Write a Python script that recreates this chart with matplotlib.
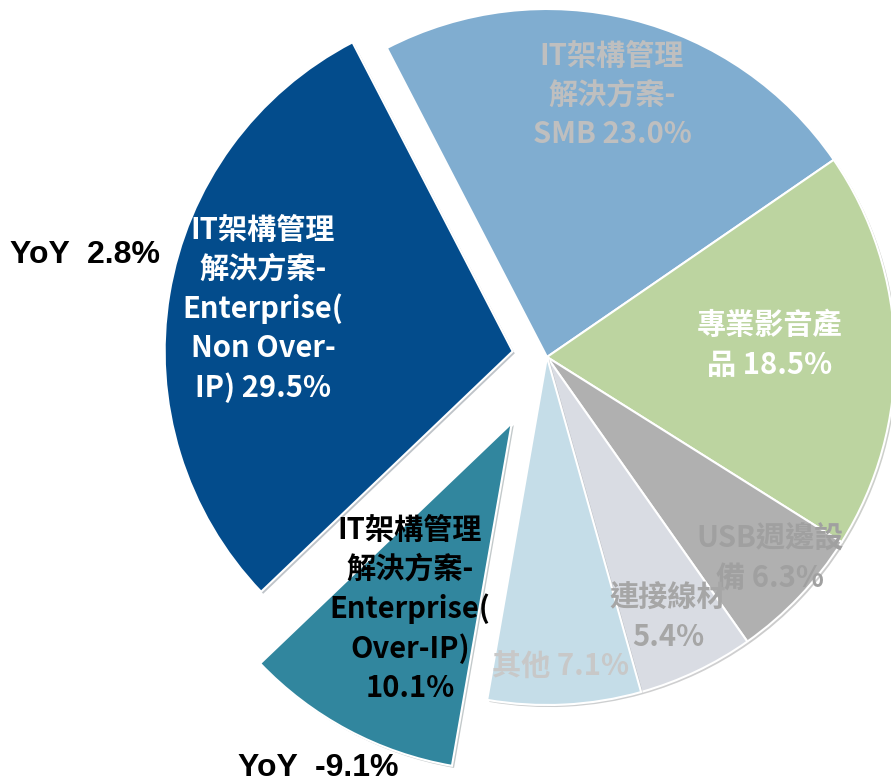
import matplotlib
matplotlib.use("Agg")
import matplotlib.pyplot as plt
import matplotlib.patheffects as pe

plt.rcParams['font.family'] = ['Noto Sans CJK TC', 'DejaVu Sans']

# ---- data ----
categories = ["IT架構管理\n解決方案-\nSMB 23.0%",
              "專業影音產\n品 18.5%",
              "USB週邊設\n備 6.3%",
              "連接線材\n5.4%",
              "其他 7.1%",
              "IT架構管理\n解決方案-\nEnterprise(\nOver-IP)\n10.1%",
              "IT架構管理\n解決方案-\nEnterprise(\nNon Over-\nIP) 29.5%"]
values = [23.0, 18.5, 6.3, 5.4, 7.1, 10.1, 29.5]
yoy_labels = ["YoY  2.8%", "YoY  -9.1%"]

colors = ["#80ADD0", "#BCD4A0", "#B0B0B0", "#D9DCE3", "#C5DDE8", "#31869E", "#034C8C"]
label_colors = ["#BFBFBF", "white", "#A0A0A0", "#A6A6A6", "#C8C8C8", "black", "white"]

W, H = 891, 779
fig = plt.figure(figsize=(W / 100, H / 100), dpi=100)
ax = fig.add_axes([0, 0, 1, 1])

cx, cy, R = 547, H - 357, 348
explode = [0, 0, 0, 0, 0, 0.215 * R, 0.1 * R]
wedges, _ = ax.pie(values, colors=colors, explode=explode, startangle=117.4,
                   counterclock=False, center=(cx, cy), radius=R,
                   wedgeprops=dict(edgecolor="white", linewidth=1.5))
for w in wedges:
    w.set_path_effects([pe.SimplePatchShadow(offset=(1.5, -1.5), alpha=0.25), pe.Normal()])

ax.set_xlim(0, W)
ax.set_ylim(0, H)
ax.set_aspect('equal')
ax.axis('off')

label_pos = [(612, 95), (770, 345), (770, 558), (668, 617), (560, 667), (410, 609), (263, 309)]
for lab, (x, y), c in zip(categories, label_pos, label_colors):
    ax.text(x, H - y, lab, ha='center', va='center', fontsize=21, fontweight='bold',
            color=c, linespacing=1.38)

yoy_font = ['Liberation Sans', 'DejaVu Sans']
ax.text(10, H - 263, yoy_labels[0], ha='left', va='baseline', fontsize=23,
        fontweight='bold', color='black', family=yoy_font)
ax.text(238, H - 776, yoy_labels[1], ha='left', va='baseline', fontsize=23,
        fontweight='bold', color='black', family=yoy_font)

fig.savefig("out.png", dpi=100)
